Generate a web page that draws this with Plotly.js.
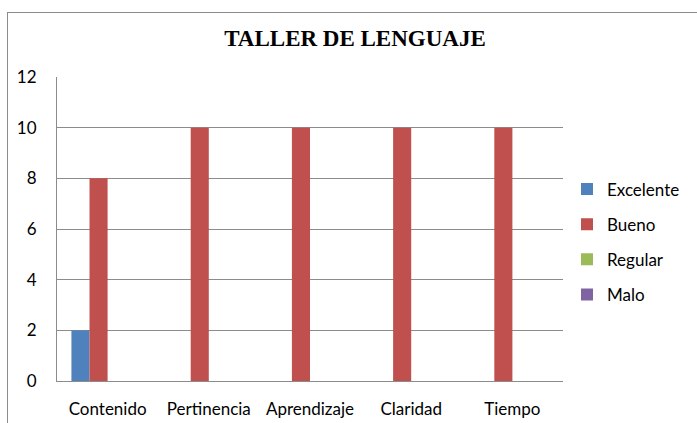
<!DOCTYPE html>
<html>
<head>
<meta charset="utf-8">
<script src="https://cdn.plot.ly/plotly-3.0.1.min.js"></script>
<style>
html,body{margin:0;padding:0;background:#fff;}
#frame{position:absolute;left:7px;top:12px;width:720px;height:440px;border:1px solid #8c8c8c;box-sizing:border-box;}
#chart{position:absolute;left:0;top:0;width:697px;height:423px;}
</style>
</head>
<body>
<div id="frame"></div>
<div id="chart"></div>
<script>
const categories = ["Contenido", "Pertinencia", "Aprendizaje", "Claridad", "Tiempo"];
const excelente = [2, 0, 0, 0, 0];
const bueno = [8, 10, 10, 10, 10];
const regular = [0, 0, 0, 0, 0];
const malo = [0, 0, 0, 0, 0];
const yTicks = [0, 2, 4, 6, 8, 10, 12];

const series = [
  {name: "Excelente", y: excelente, color: "#4F81BD"},
  {name: "Bueno", y: bueno, color: "#C0504D"},
  {name: "Regular", y: regular, color: "#9BBB59"},
  {name: "Malo", y: malo, color: "#8064A2"}
];

const data = series.map(s => ({
  type: "bar",
  x: categories,
  y: s.y,
  name: s.name,
  legendgroup: s.name,
  marker: {color: s.color}
}));

const layout = {
  width: 697,
  height: 423,
  margin: {l: 57, r: 134, t: 77, b: 42, autoexpand: false},
  paper_bgcolor: "rgba(0,0,0,0)",
  plot_bgcolor: "rgba(0,0,0,0)",
  barmode: "group",
  bargap: 0.285,
  bargroupgap: 0,
  title: {
    text: "<b>TALLER DE LENGUAJE</b>",
    font: {family: "Liberation Serif, Times New Roman, serif", size: 23, color: "#000"},
    x: 355/697, xanchor: "center", xref: "container",
    y: 1 - 38/423, yanchor: "middle", yref: "container"
  },
  font: {family: "Lato, Open Sans, sans-serif", size: 17, color: "#000"},
  xaxis: {
    showgrid: false,
    showline: true,
    linecolor: "#8c8c8c",
    ticks: "",
    ticklabelstandoff: 13,
    tickfont: {size: 17},
    zeroline: false
  },
  yaxis: {
    range: [0, 12],
    tickvals: yTicks,
    showgrid: true,
    gridcolor: "#8c8c8c",
    gridwidth: 1,
    showline: true,
    linecolor: "#8c8c8c",
    ticks: "",
    ticklabelstandoff: 16,
    tickfont: {size: 17},
    zeroline: false
  },
  legend: {
    x: 1 + 4/506, xanchor: "left",
    y: 0.457, yanchor: "middle",
    font: {size: 17},
    itemwidth: 30,
    tracegroupgap: 10,
    bgcolor: "rgba(0,0,0,0)"
  },
  showlegend: true
};

Plotly.newPlot("chart", data, layout, {displayModeBar: false, staticPlot: true});
</script>
</body>
</html>
